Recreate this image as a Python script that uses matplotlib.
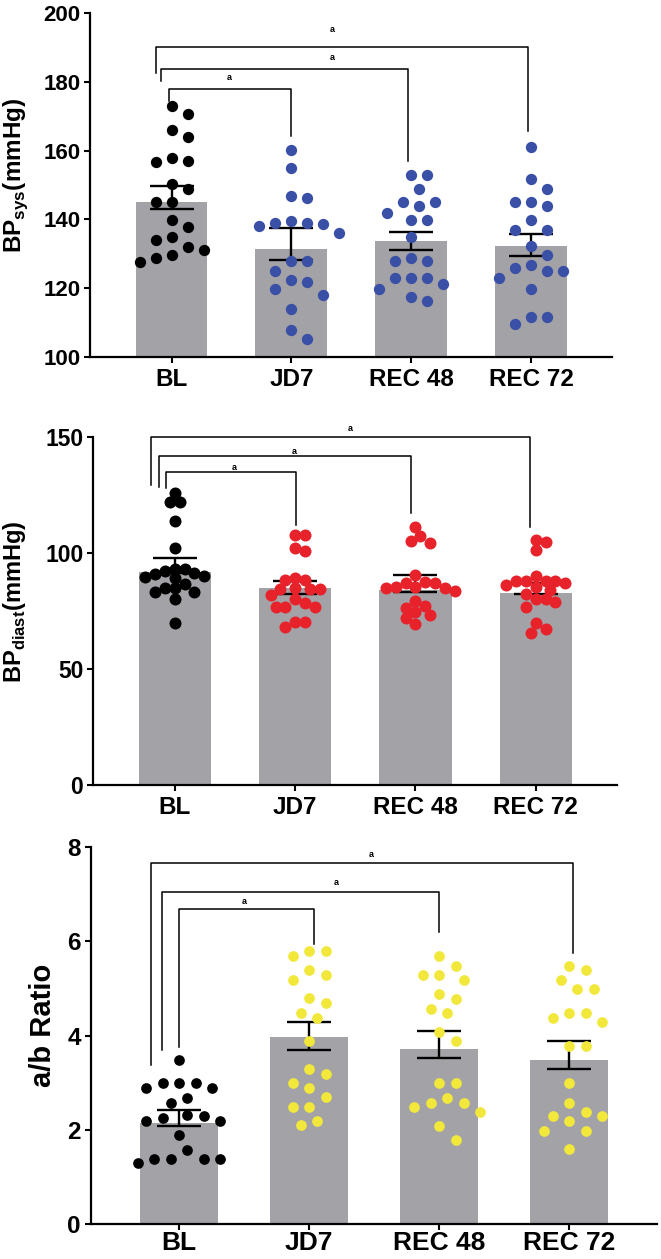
import numpy as np
import matplotlib
matplotlib.use('Agg')
import matplotlib.pyplot as plt

plt.rcParams['font.family'] = ['Liberation Sans', 'DejaVu Sans']
plt.rcParams['font.weight'] = 'bold'
plt.rcParams['mathtext.fontset'] = 'custom'
plt.rcParams['mathtext.bf'] = 'Liberation Sans:bold'
plt.rcParams['mathtext.rm'] = 'Liberation Sans:bold'

groups = ['BL', 'JD7', 'REC 48', 'REC 72']

# systolic BP (mmHg)
sys_bl = [173.1, 170.6, 166.1, 164.0, 157.0, 156.8, 157.8, 150.3, 148.9, 145.1,
          145.1, 139.8, 137.9, 134.9, 133.9, 132.0, 131.0, 129.7, 128.8, 127.7]
sys_jd7 = [160.1, 155.1, 146.9, 146.1, 139.1, 139.1, 138.2, 138.8, 139.7, 136.0,
           127.8, 127.8, 124.9, 122.5, 121.8, 119.9, 118.0, 114.0, 107.8, 105.2]
sys_rec48 = [152.8, 152.8, 148.8, 145.2, 145.0, 143.9, 141.9, 139.8, 139.8, 134.8,
             128.8, 127.8, 127.8, 122.9, 122.9, 122.9, 121.2, 119.8, 117.4, 116.3]
sys_rec72 = [161.0, 151.8, 148.8, 145.0, 143.8, 145.0, 139.8, 136.9, 136.9, 132.3,
             129.7, 126.7, 125.9, 124.9, 124.9, 122.9, 119.8, 111.6, 111.6, 109.5]
sys_bar = [145.2, 131.4, 133.6, 132.4]
sys_hi = [149.8, 137.4, 136.5, 135.7]
sys_lo = [143.1, 128.1, 131.0, 129.3]

# diastolic BP (mmHg)
dia_bl = [125.9, 121.9, 121.9, 113.8, 102.0, 93.2, 92.2, 90.7, 89.7, 89.0,
          90.0, 91.2, 93.2, 84.8, 83.1, 86.6, 83.1, 84.8, 80.0, 69.9]
dia_jd7 = [107.5, 107.5, 102.0, 100.9, 89.0, 88.3, 88.3, 84.3, 84.3, 84.5,
           84.8, 81.8, 80.0, 78.2, 76.8, 76.8, 76.8, 70.3, 68.2, 70.3]
dia_rec48 = [111.2, 107.2, 104.1, 105.2, 90.3, 85.1, 84.8, 86.9, 87.5, 86.9,
             84.8, 85.1, 83.4, 79.1, 77.2, 76.1, 73.4, 74.4, 71.8, 69.3]
dia_rec72 = [104.5, 105.7, 101.0, 90.0, 88.0, 88.0, 86.2, 84.0, 85.2, 86.8,
             88.0, 88.0, 80.0, 79.0, 76.8, 80.0, 82.3, 69.6, 65.6, 67.1]
dia_bar = [91.8, 85.0, 83.8, 82.5]
dia_hi = [97.9, 87.7, 90.4, 87.1]
dia_lo = [91.2, 82.3, 83.1, 82.1]

# a/b ratio
rat_bl = [3.48, 2.99, 2.99, 2.89, 2.89, 2.99, 2.58, 2.68, 2.19, 2.25,
          2.30, 2.32, 2.19, 1.89, 1.57, 1.38, 1.38, 1.29, 1.38, 1.38]
rat_jd7 = [5.79, 5.69, 5.79, 5.28, 5.18, 5.38, 4.79, 4.68, 4.48, 4.38,
           3.89, 3.18, 3.28, 2.99, 2.89, 2.69, 2.49, 2.49, 2.10, 2.19]
rat_rec48 = [5.68, 5.48, 5.28, 5.28, 5.18, 4.78, 4.88, 4.48, 4.57, 4.08,
             3.88, 2.99, 2.99, 2.58, 2.68, 2.58, 2.49, 2.38, 2.08, 1.79]
rat_rec72 = [5.48, 5.38, 5.18, 4.98, 4.98, 4.48, 4.38, 4.29, 4.48, 3.78,
             3.78, 2.99, 2.58, 2.29, 2.38, 2.18, 2.29, 1.98, 1.98, 1.59]
rat_bar = [2.15, 3.97, 3.71, 3.48]
rat_hi = [2.42, 4.28, 4.10, 3.88]
rat_lo = [2.08, 3.69, 3.52, 3.28]

BAR_GREY = '#a3a2a7'
W, H = 661, 1259
fig = plt.figure(figsize=(W / 100, H / 100), dpi=100)


def swarm(vals, ypx, dmin):
    # simple beeswarm in pixel units, returns x offsets in px
    vals = np.asarray(vals, float)
    order = np.argsort(-vals, kind='stable')
    placed = []
    offs = np.zeros(len(vals))
    for i in order:
        y = vals[i] * ypx
        k = 0
        while True:
            step = (k + 1) // 2 * (1 if k % 2 else -1)
            x = step * dmin / 2
            if all((x - px) ** 2 + (y - py) ** 2 >= dmin ** 2 * 0.98 for px, py in placed):
                break
            k += 1
        placed.append((x, y))
        offs[i] = x
    return offs


def panel(rect, ylim, yticks, series, colors, bar, lo, hi, brackets,
          ylabel, ylab_xy, fs, xfs, lab_fs, dot_px, spacing, xpad=5):
    ax = fig.add_axes(rect)
    xlim = (-0.68, 3.675)
    ax.set_xlim(*xlim)
    ax.set_ylim(*ylim)
    x = np.arange(len(groups))
    ax.bar(x, np.array(bar) - ylim[0], bottom=ylim[0], width=0.6, color=BAR_GREY, zorder=1)
    bar = np.array(bar)
    ax.errorbar(x, bar, yerr=[bar - np.array(lo), np.array(hi) - bar], fmt='none',
                ecolor='black', elinewidth=1.7, capsize=16, capthick=1.7, zorder=2)
    xpx = rect[2] * W / (xlim[1] - xlim[0])
    ypx = rect[3] * H / (ylim[1] - ylim[0])
    for i, (vals, c) in enumerate(zip(series, colors)):
        offs = swarm(vals, ypx, spacing) / xpx
        ax.plot(i + offs, vals, 'o', ms=dot_px * 0.72, color=c, mec='none', zorder=3,
                clip_on=False)
    for (i, j, y, lb, rb, ldx, rdx, tx, ty) in brackets:
        ax.plot([i + ldx, i + ldx, j + rdx, j + rdx], [lb, y, y, rb], color='black',
                lw=1.1, clip_on=False, zorder=4)
        ax.text(tx, ty, 'a', ha='center', va='center', fontsize=6.5, fontweight='bold',
                clip_on=False)
    for s in ['top', 'right']:
        ax.spines[s].set_visible(False)
    for s in ['left', 'bottom']:
        ax.spines[s].set_linewidth(1.6)
    ax.set_yticks(yticks)
    ax.set_xticks(x)
    ax.set_xticklabels(groups)
    ax.tick_params(direction='out', length=4, width=1.5, labelsize=fs, pad=3)
    ax.tick_params(axis='x', pad=xpad, labelsize=xfs)
    for t in ax.get_xticklabels() + ax.get_yticklabels():
        t.set_fontweight('bold')
    fig.text(ylab_xy[0] / W, 1 - ylab_xy[1] / H, ylabel, rotation=90, ha='center',
             va='center', fontsize=lab_fs, fontweight='bold')
    return ax


panel([0.1362, 0.7164, 0.7897, 0.2732], (100, 200), range(100, 201, 20),
      [sys_bl, sys_jd7, sys_rec48, sys_rec72], ['black', '#3a4fa6', '#3a4fa6', '#3a4fa6'],
      sys_bar, sys_lo, sys_hi,
      [(0, 3, 190.1, 182.6, 165.6, -0.13, -0.03, 1.34, 195.1),
       (0, 2, 183.7, 180.3, 156.9, -0.09, -0.03, 1.34, 187.2),
       (0, 1, 178.0, 174.5, 164.3, -0.02, 0.0, 0.48, 181.2)],
      r'BP$_{\mathbf{sys}}$(mmHg)', (16, 175), 16, 17.5, 17.5, 11.3, 16, xpad=4)

panel([0.1407, 0.3765, 0.7927, 0.2767], (0, 150), range(0, 151, 50),
      [dia_bl, dia_jd7, dia_rec48, dia_rec72], ['black', '#e8222b', '#e8222b', '#e8222b'],
      dia_bar, dia_lo, dia_hi,
      [(0, 3, 149.7, 129.2, 111.2, -0.2, -0.05, 1.46, 153.3),
       (0, 2, 141.5, 128.5, 117.0, -0.13, -0.04, 0.99, 143.6),
       (0, 1, 134.9, 127.8, 112.0, -0.07, 0.01, 0.49, 136.9)],
      r'BP$_{\mathbf{diast}}$(mmHg)', (15, 602), 16.5, 17.5, 17, 12, 9.8, xpad=4)

panel([0.1372, 0.02756, 0.8567, 0.2999], (0, 8), range(0, 9, 2),
      [rat_bl, rat_jd7, rat_rec48, rat_rec72], ['black', '#f2e83c', '#f2e83c', '#f2e83c'],
      rat_bar, rat_lo, rat_hi,
      [(0, 3, 7.65, 3.37, 5.74, -0.22, 0.03, 1.48, 7.83),
       (0, 2, 7.05, 3.69, 6.20, -0.13, 0.0, 1.21, 7.25),
       (0, 1, 6.68, 3.76, 5.94, 0.0, 0.04, 0.5, 6.84)],
      'a/b Ratio', (43, 1025), 17.5, 19, 21, 10.7, 16.5, xpad=1)

fig.savefig('out.png', dpi=100)
